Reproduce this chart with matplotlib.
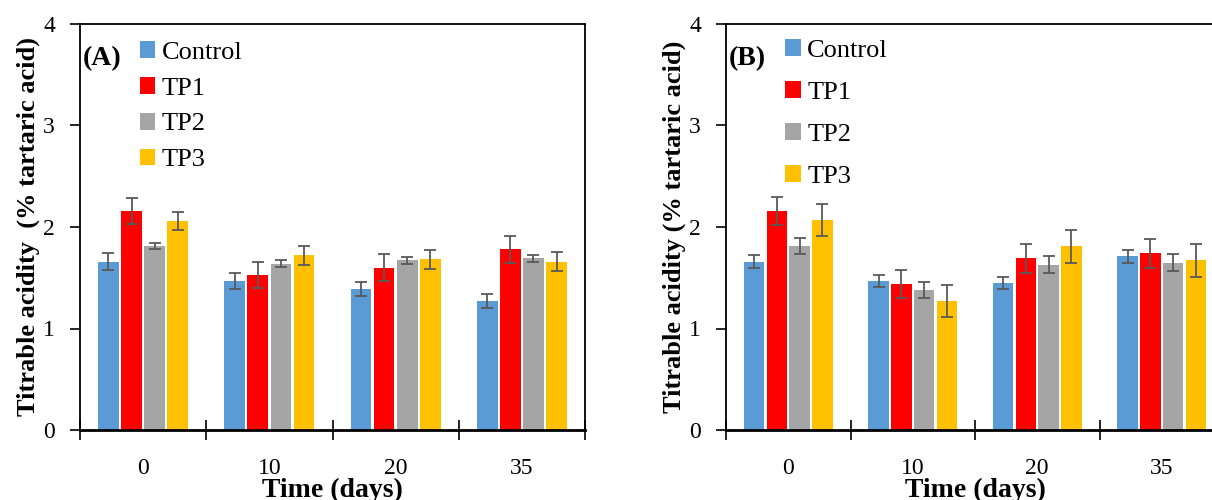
import matplotlib.pyplot as plt
import numpy as np

plt.rcParams['font.family'] = ['Liberation Serif', 'DejaVu Serif']

days = ['0', '10', '20', '35']
series = ['Control', 'TP1', 'TP2', 'TP3']
colors = ['#5B9BD5', '#FF0000', '#A5A5A5', '#FFC000']

# panel A: mean and error per series, one value per day
a_control = [1.66, 1.47, 1.39, 1.27]
a_tp1 = [2.16, 1.53, 1.60, 1.78]
a_tp2 = [1.81, 1.64, 1.67, 1.69]
a_tp3 = [2.06, 1.72, 1.68, 1.66]
a_control_err = [0.08, 0.08, 0.07, 0.07]
a_tp1_err = [0.13, 0.13, 0.13, 0.13]
a_tp2_err = [0.03, 0.03, 0.03, 0.03]
a_tp3_err = [0.09, 0.09, 0.09, 0.09]

# panel B
b_control = [1.66, 1.47, 1.45, 1.71]
b_tp1 = [2.16, 1.44, 1.69, 1.74]
b_tp2 = [1.81, 1.38, 1.63, 1.65]
b_tp3 = [2.07, 1.27, 1.81, 1.67]
b_control_err = [0.06, 0.06, 0.06, 0.06]
b_tp1_err = [0.14, 0.14, 0.14, 0.14]
b_tp2_err = [0.08, 0.08, 0.08, 0.08]
b_tp3_err = [0.16, 0.16, 0.16, 0.16]


def panel(ax, vals, errs, tag, ylabel, leg_top, leg_space):
    x = np.arange(len(days))
    step = 0.183
    for j, (v, e) in enumerate(zip(vals, errs)):
        ax.bar(x + (j - 1.5) * step, v, width=0.165, color=colors[j],
               label=series[j], zorder=2)
        ax.errorbar(x + (j - 1.5) * step, v, yerr=e, fmt='none',
                    ecolor='#595959', elinewidth=1.3, capsize=4,
                    capthick=1.3, zorder=3)

    ax.set_xlim(-0.5, 3.5)
    ax.set_ylim(0, 4)
    ax.set_yticks([0, 1, 2, 3, 4])
    # boundaries get the tick marks, centres get the labels
    ax.set_xticks(np.arange(-0.5, 4.0, 1.0))
    ax.set_xticklabels([])
    ax.set_xticks(x, minor=True)
    ax.set_xticklabels(days, minor=True)
    ax.tick_params(axis='x', which='major', direction='inout', length=15, width=1.2)
    ax.tick_params(axis='x', which='minor', length=0, pad=20, labelsize=17)
    ax.tick_params(axis='y', direction='out', length=7, width=1.2, pad=11, labelsize=17)

    for s in ax.spines.values():
        s.set_linewidth(1.3)
    ax.spines['bottom'].set_linewidth(2.0)

    ax.set_ylabel(ylabel, fontsize=19, fontweight='bold', labelpad=2)
    ax.set_xlabel('Time (days)', fontsize=20, fontweight='bold', labelpad=-1)

    ax.text(0.006, 0.915, tag, transform=ax.transAxes, fontsize=20,
            fontweight='bold', va='center', ha='left')
    ax.legend(loc='upper left', bbox_to_anchor=(0.118, leg_top), frameon=False,
              fontsize=19, handlelength=0.6, handleheight=0.6,
              handletextpad=0.25, labelspacing=leg_space,
              borderpad=0, borderaxespad=0)


fig = plt.figure(figsize=(12.12, 5.0), dpi=100)
ax1 = fig.add_axes([80 / 1212, 70 / 500, 505 / 1212, 406 / 500])
ax2 = fig.add_axes([726 / 1212, 70 / 500, 498 / 1212, 406 / 500])

panel(ax1, [a_control, a_tp1, a_tp2, a_tp3],
      [a_control_err, a_tp1_err, a_tp2_err, a_tp3_err],
      '(A)', 'Titrable acidity  (% tartaric acid)', 0.958, 0.5)
panel(ax2, [b_control, b_tp1, b_tp2, b_tp3],
      [b_control_err, b_tp1_err, b_tp2_err, b_tp3_err],
      '(B)', 'Titrable acidity (% tartaric acid)', 0.963, 0.73)

fig.savefig('out.png', dpi=100)
